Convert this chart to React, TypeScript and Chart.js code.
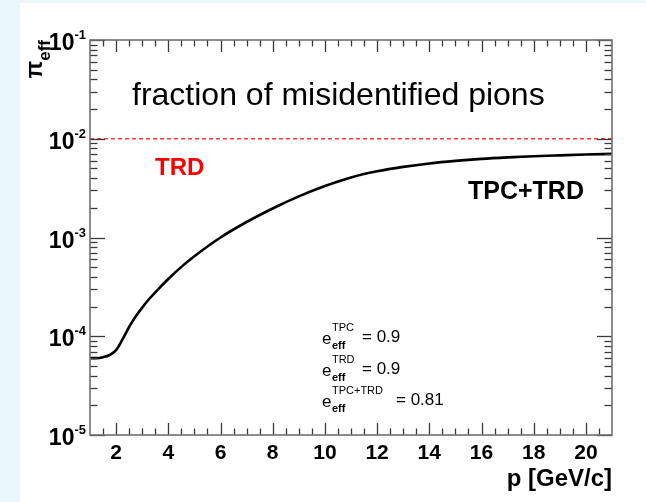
import React, { useEffect, useRef } from "react";
import { Chart, registerables } from "chart.js";

Chart.register(...registerables);

// Momentum p [GeV/c] and fraction of misidentified pions (TPC+TRD)
const momentum = [
  1, 1.25, 1.5, 1.75, 2, 2.25, 2.5, 2.75, 3, 3.25, 3.5, 4, 4.5, 5, 6, 7, 8, 9, 10,
  11, 12, 13, 14, 15, 16, 17, 18, 19, 20, 21,
];
const pionFraction = [
  6.0e-5, 6.0e-5, 6.14e-5, 6.46e-5, 7.24e-5, 9.33e-5, 1.245e-4, 1.585e-4, 1.95e-4,
  2.355e-4, 2.786e-4, 3.8e-4, 5.04e-4, 6.46e-4, 1.0e-3, 1.435e-3, 1.968e-3, 2.606e-3,
  3.319e-3, 4.055e-3, 4.677e-3, 5.188e-3, 5.623e-3, 5.97e-3, 6.252e-3, 6.471e-3,
  6.653e-3, 6.792e-3, 6.918e-3, 7.031e-3,
];

// TRD-only level
const trdLevel = 1e-2;

// Axis ranges and ticks
const xRange = [1, 21];
const xMajorTicks = [2, 4, 6, 8, 10, 12, 14, 16, 18, 20];
const xMinorStep = 0.5;
const yRange = [1e-5, 1e-1];
const yDecades = [-5, -4, -3, -2, -1];
const yMinorMultipliers = [2, 3, 4, 5, 6, 7, 8, 9];

// Efficiency annotations
const effLabels = ["TPC", "TRD", "TPC+TRD"];
const effValues = ["0.9", "0.9", "0.81"];

const SANS = '"Liberation Sans", Arial, Helvetica, sans-serif';

const frameAndText = {
  id: "frameAndText",
  beforeDraw(chart: any) {
    const { ctx, width, height } = chart;
    ctx.save();
    ctx.fillStyle = "#eaf7fc";
    ctx.fillRect(0, 0, width, height);
    ctx.fillStyle = "#ffffff";
    ctx.fillRect(20, 3, width - 20, height - 3);
    ctx.restore();
  },
  afterDraw(chart: any) {
    const { ctx, chartArea } = chart;
    const xs = chart.scales.x;
    const ys = chart.scales.y;
    const { left, right, top, bottom } = chartArea;

    ctx.save();
    // ticks, drawn inside the frame on all four sides
    ctx.strokeStyle = "#3a3a3a";
    ctx.lineWidth = 1.3;
    const xMajLen = 12, xMinLen = 6.5, yMajLen = 15, yMinLen = 7.5;
    const line = (x1: number, y1: number, x2: number, y2: number) => {
      ctx.beginPath();
      ctx.moveTo(x1, y1);
      ctx.lineTo(x2, y2);
      ctx.stroke();
    };
    for (let v = xRange[0] + xMinorStep; v < xRange[1]; v += xMinorStep) {
      const px = Math.round(xs.getPixelForValue(v)) + 0.5;
      const len = xMajorTicks.includes(v) ? xMajLen : xMinLen;
      line(px, bottom, px, bottom - len);
      line(px, top, px, top + len);
    }
    yDecades.forEach((e) => {
      const base = Math.pow(10, e);
      const py = Math.round(ys.getPixelForValue(base)) + 0.5;
      line(left, py, left + yMajLen, py);
      line(right, py, right - yMajLen, py);
      if (e < -1) {
        yMinorMultipliers.forEach((m) => {
          const my = Math.round(ys.getPixelForValue(m * base)) + 0.5;
          line(left, my, left + yMinLen, my);
          line(right, my, right - yMinLen, my);
        });
      }
    });

    // frame
    ctx.strokeStyle = "#707070";
    ctx.lineWidth = 1.6;
    ctx.strokeRect(left, top, right - left, bottom - top);

    // x tick labels
    ctx.fillStyle = "#000";
    ctx.textAlign = "center";
    ctx.textBaseline = "alphabetic";
    ctx.font = `bold 21px ${SANS}`;
    xMajorTicks.forEach((v) => {
      ctx.fillText(String(v), xs.getPixelForValue(v), 459);
    });

    // y tick labels 10^n
    yDecades.forEach((e) => {
      const py = ys.getPixelForValue(Math.pow(10, e));
      const sup = String(e);
      ctx.font = `bold 13px ${SANS}`;
      const supW = ctx.measureText(sup).width;
      const rightEdge = 86;
      ctx.textAlign = "left";
      ctx.fillText(sup, rightEdge - supW, py - 1);
      ctx.font = `bold 23px ${SANS}`;
      ctx.textAlign = "right";
      ctx.fillText("10", rightEdge - supW, py + 10);
    });

    // axis titles
    ctx.textAlign = "right";
    ctx.font = `bold 24px ${SANS}`;
    ctx.fillText("p [GeV/c]", right, 486);

    ctx.save();
    ctx.translate(42, top);
    ctx.rotate(-Math.PI / 2);
    ctx.textAlign = "left";
    ctx.font = `bold 17px ${SANS}`;
    const effW = ctx.measureText("eff").width;
    ctx.font = `bold 23px ${SANS}`;
    const piW = ctx.measureText("π").width;
    ctx.fillText("π", -(piW + effW), 0);
    ctx.font = `bold 17px ${SANS}`;
    ctx.fillText("eff", -effW, 8);
    ctx.restore();

    // in-plot texts
    ctx.textAlign = "left";
    ctx.font = `32px ${SANS}`;
    ctx.fillText("fraction of misidentified pions", 132, 105);

    ctx.font = `bold 24px ${SANS}`;
    ctx.fillStyle = "#ff0000";
    ctx.fillText("TRD", 155, 175);
    ctx.fillStyle = "#000";
    ctx.font = `bold 25px ${SANS}`;
    ctx.fillText("TPC+TRD", 468, 199);

    // efficiency block
    const rowBase = [342, 374, 405];
    const valueX = [362, 362, 396];
    effLabels.forEach((lab, i) => {
      const b = rowBase[i];
      ctx.font = `17px ${SANS}`;
      ctx.fillText("e", 322, b + 2);
      const eW = ctx.measureText("e").width;
      ctx.font = `11px ${SANS}`;
      ctx.fillText(lab, 322 + eW + 0.5, b - 11);
      ctx.font = `bold 11px ${SANS}`;
      ctx.fillText("eff", 322 + eW + 0.5, b + 7);
      ctx.font = `17px ${SANS}`;
      ctx.fillText(`= ${effValues[i]}`, valueX[i], b);
    });
    ctx.restore();
  },
};

export default function App() {
  const canvasRef = useRef<HTMLCanvasElement | null>(null);

  useEffect(() => {
    document.body.style.margin = "0";
    const canvas = canvasRef.current;
    if (!canvas) return;
    const chart = new Chart(canvas, {
      type: "line",
      data: {
        datasets: [
          {
            label: "TPC+TRD",
            data: momentum.map((p, i) => ({ x: p, y: pionFraction[i] })),
            borderColor: "#000",
            borderWidth: 2.6,
            pointRadius: 0,
            cubicInterpolationMode: "monotone",
            fill: false,
          },
          {
            label: "TRD",
            data: [
              { x: xRange[0], y: trdLevel },
              { x: xRange[1], y: trdLevel },
            ],
            borderColor: "#ff3a3a",
            borderWidth: 1.6,
            borderDash: [4, 3],
            pointRadius: 0,
            fill: false,
          },
        ],
      },
      options: {
        animation: false,
        responsive: false,
        maintainAspectRatio: false,
        layout: { padding: { left: 90, top: 40, right: 34, bottom: 67 } },
        plugins: { legend: { display: false }, tooltip: { enabled: false } },
        scales: {
          x: { type: "linear", min: xRange[0], max: xRange[1], display: false },
          y: { type: "logarithmic", min: yRange[0], max: yRange[1], display: false },
        },
      },
      plugins: [frameAndText],
    });
    return () => chart.destroy();
  }, []);

  return (
    <div style={{ position: "fixed", left: 0, top: 0, width: 646, height: 502 }}>
      <canvas ref={canvasRef} width={646} height={502} style={{ display: "block" }} />
    </div>
  );
}
